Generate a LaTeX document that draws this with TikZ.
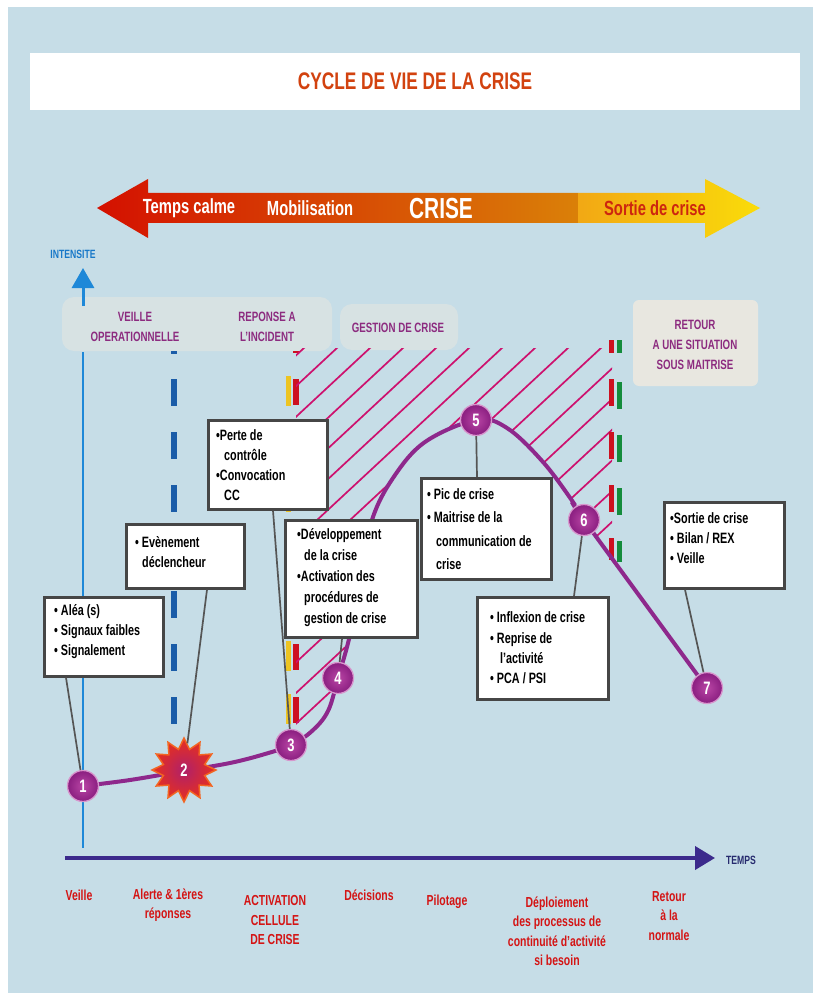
\documentclass[tikz,border=0pt]{standalone}
\usepackage{fontspec}
\newfontfamily\cf[FakeStretch=0.72]{Liberation Sans}
\usetikzlibrary{shapes.geometric,arrows.meta}
\newcommand\myfs[2]{\fontsize{#1}{#2}\selectfont}
\definecolor{bg}{RGB}{198,221,231}
\definecolor{titlec}{RGB}{210,66,15}
\definecolor{purp}{RGB}{140,43,127}
\definecolor{redl}{RGB}{212,20,20}
\definecolor{hatchc}{RGB}{205,17,110}
\definecolor{curvec}{RGB}{142,40,140}
\definecolor{axisb}{RGB}{30,136,216}
\definecolor{intc}{RGB}{24,120,200}
\definecolor{timec}{RGB}{60,42,140}
\definecolor{tempsc}{RGB}{38,42,110}
\definecolor{dashb}{RGB}{26,92,168}
\definecolor{boxg}{RGB}{70,70,70}
\definecolor{conng}{RGB}{85,85,85}
\definecolor{glow}{RGB}{255,238,220}
\definecolor{barred}{RGB}{205,16,32}
\definecolor{baryel}{RGB}{245,192,0}
\definecolor{bargreen}{RGB}{20,140,60}
\definecolor{arred}{RGB}{212,16,0}
\definecolor{arorange}{RGB}{218,128,8}
\definecolor{aryel1}{RGB}{242,168,20}
\definecolor{aryel2}{RGB}{250,220,10}
\definecolor{sortc}{RGB}{205,38,15}
\definecolor{circin}{RGB}{185,70,165}
\definecolor{circout}{RGB}{138,30,128}
\definecolor{circrim}{RGB}{215,150,205}
\definecolor{starin}{RGB}{176,32,106}
\definecolor{starout}{RGB}{232,48,28}
\definecolor{starline}{RGB}{242,101,34}
\tikzset{
  boxn/.style={draw=boxg, line width=2.7, fill=white, inner sep=0, anchor=north west},
  btxt/.style={anchor=west, align=left, inner sep=0, font=\cf\bfseries\myfs{15}{20}},
  conn/.style={draw=conng, line width=1.7},
  numc/.style={circle, minimum size=31, inner sep=0, inner color=circin, outer color=circout,
     draw=circrim, line width=1.3, text=white, font=\cf\bfseries\myfs{18}{20}},
  plab/.style={align=center, text=purp, font=\cf\bfseries\myfs{13.5}{20}, inner sep=0},
  rlab/.style={align=center, text=redl, font=\cf\bfseries\myfs{14.5}{19.5}, inner sep=0},
  atxt/.style={text=white, font=\cf\bfseries\myfs{20.5}{22}, inner sep=0},
  hatchl/.style={draw=hatchc, line width=1.7},
}
\begin{document}
\begin{tikzpicture}[x=1pt,y=-1pt]
\useasboundingbox (0,0) rectangle (820,1000);
\fill[white] (0,0) rectangle (820,1000);
\fill[bg] (8,7) rectangle (813,993);
% title
\node[fill=white, minimum width=770, minimum height=57, inner sep=0, text=titlec,
      font=\cf\bfseries\myfs{24}{30}] (title) at (415,81.5) {CYCLE DE VIE DE LA CRISE};
% banner arrow
\path[left color=arred, right color=arorange]
  (97,208) -- (148,179) -- (148,193) -- (578,193) -- (578,223) -- (148,223) -- (148,238) -- cycle;
\path[left color=aryel1, right color=aryel2]
  (578,193) -- (705,193) -- (705,179) -- (760,208) -- (705,238) -- (705,223) -- (578,223) -- cycle;
\node[atxt] (tc) at (189,208) {Temps calme};
\node[atxt] (mob) at (310,208) {Mobilisation};
\node[atxt, font=\cf\bfseries\myfs{29}{30}] (crise) at (441,209) {CRISE};
\node[atxt, text=sortc] (sortie) at (655,208) {Sortie de crise};
% glows
\fill[glow, opacity=0.3, rounded corners=12] (62,297) rectangle (332,351);
\fill[glow, opacity=0.3, rounded corners=12] (340,304) rectangle (458,350);
\fill[glow, opacity=0.6, rounded corners=6] (633,300) rectangle (758,386);
% axes
\node[text=intc, font=\cf\bfseries\myfs{12}{14}, inner sep=0] (inten) at (73,254) {INTENSITE};
\draw[axisb, line width=3, -{Triangle[length=20pt,width=22pt]}] (83,306) -- (83,268);
\draw[axisb, line width=2.5] (83,352) -- (83,848);
\coordinate (tstart) at (65,858);
\node[text=tempsc, font=\cf\bfseries\myfs{12}{14}, inner sep=0] (temps) at (741,860) {TEMPS};
\coordinate (tend) at (715,858);
\draw[timec, line width=4, -{Triangle[length=20pt,width=23pt]}] (tstart) -- (tend);
% phase labels
\node[plab] (veilleop) at (135,327) {VEILLE\\OPERATIONNELLE};
\node[plab] (repinc) at (267,327) {REPONSE A\\L’INCIDENT};
\node[plab] (gest) at (398,328) {GESTION DE CRISE};
\node[plab] (retour) at (695,345) {RETOUR\\A UNE SITUATION\\SOUS MAITRISE};
% dashed blue line
\draw[dashb, line width=6.5] (174,351) -- (174,353.5);
\draw[dashb, line width=6.5, dash pattern=on 27 off 26] (174,379) -- (174,762);
% yellow/red bars
\draw[baryel, line width=5, opacity=0.85, dash pattern=on 30 off 23] (288.5,376) -- (288.5,726);
\draw[barred, line width=2] (293,352) -- (300,352);
\draw[barred, line width=6, dash pattern=on 26 off 27] (296,379) -- (296,724);
% hatch
\begin{scope}
\clip (296,348) -- (612,348) -- (612,558) -- plot[smooth, tension=0.6] coordinates {(584,520) (573,502) (543,462) (507,428) (476,420) (425,442) (393,478) (372,520) (362,575) (350,635) (338,678) (328,711) (312,731) (296,742)} -- cycle;
\foreach \k in {-2,...,17} {
  \draw[hatchl] ({337+33*\k+60},{348-0.93*60}) -- ({337+33*\k-600},{348+0.93*600});
}
\end{scope}
% red/green bars
\draw[barred, line width=5] (611.5,340) -- (611.5,353);
\draw[bargreen, line width=5] (619.5,340) -- (619.5,353);
\draw[barred, line width=5, dash pattern=on 27 off 26] (611.5,379) -- (611.5,560);
\draw[bargreen, line width=5, dash pattern=on 27 off 26] (619.5,382) -- (619.5,562);
% curve
\draw[curvec, line width=4] plot[smooth, tension=0.6] coordinates {(83,786) (130,780) (183,771) (230,763) (265,754) (291,745) (312,731) (328,711) (338,678) (350,635) (362,575) (372,520) (393,478) (425,442) (476,420) (507,428) (543,462) (573,502) (584,520) (707,688)};
% boxes
\node[boxn, minimum width=119, minimum height=79] (b1) at (43,596) {};
\node[boxn, minimum width=118, minimum height=64] (b2) at (125,523) {};
\node[boxn, minimum width=119, minimum height=89] (b3) at (207,419) {};
\node[boxn, minimum width=132, minimum height=117] (b4) at (284,519) {};
\node[boxn, minimum width=130, minimum height=101] (b5) at (420,477) {};
\node[boxn, minimum width=131, minimum height=102] (b6) at (476,596) {};
\node[boxn, minimum width=120, minimum height=86] (b7) at (663,501) {};
\node[btxt] (t1) at (54,632) {• Aléa (s)\\• Signaux faibles\\• Signalement};
\node[btxt] (t2) at (135,552) {• Evènement\\\hspace*{7pt}déclencheur};
\node[btxt] (t3) at (216,465) {•Perte de\\\hspace*{8pt}contrôle\\•Convocation\\\hspace*{8pt}CC};
\node[btxt, font=\cf\bfseries\myfs{15}{21}] (t4) at (297,578) {•Développement\\\hspace*{7pt}de la crise\\•Activation des\\\hspace*{7pt}procédures de\\\hspace*{7pt}gestion de crise};
\node[btxt, font=\cf\bfseries\myfs{15}{23.5}] (t5) at (427,529) {• Pic de crise\\• Maitrise de la\\\hspace*{9pt}communication de\\\hspace*{9pt}crise};
\node[btxt, font=\cf\bfseries\myfs{15}{20.3}] (t6) at (490,648) {• Inflexion de crise\\• Reprise de\\\hspace*{10pt}l’activité\\• PCA / PSI};
\node[btxt] (t7) at (670,538) {•Sortie de crise\\• Bilan / REX\\• Veille};
% numbered points
\node[numc] (n1) at (83,786) {1};
\node[star, star points=12, star point ratio=1.5, minimum size=64, inner sep=0,
      draw=starline, line width=1.5, inner color=starin, outer color=starout,
      text=white, font=\cf\bfseries\myfs{18}{20}] (n2) at (184,770) {2};
\node[numc] (n3) at (291,745) {3};
\node[numc] (n4) at (338,678) {4};
\node[numc] (n5) at (476,420) {5};
\node[numc] (n6) at (584,520) {6};
\node[numc] (n7) at (707,688) {7};
% connectors
\draw[conn] ([xshift=23]b1.south west) -- (n1);
\draw[conn] ([xshift=82]b2.south west) -- (n2);
\draw[conn] ([xshift=66]b3.south west) -- (n3);
\draw[conn] ([xshift=58]b4.south west) -- (n4);
\draw[conn] ([xshift=57]b5.north west) -- (n5);
\draw[conn] ([xshift=98]b6.north west) -- (n6);
\draw[conn] ([xshift=22]b7.south west) -- (n7);
% bottom labels
\node[rlab] (l1) at (79,895) {Veille};
\node[rlab] (l2) at (168,905) {Alerte \& 1ères\\réponses};
\node[rlab] (l3) at (275,920) {ACTIVATION\\CELLULE\\DE CRISE};
\node[rlab] (l4) at (369,895) {Décisions};
\node[rlab] (l5) at (447,902) {Pilotage};
\node[rlab] (l6) at (557,931) {Déploiement\\des processus de\\continuité d’activité\\si besoin};
\node[rlab] (l7) at (669,916) {Retour\\à la\\normale};
\end{tikzpicture}
\end{document}
